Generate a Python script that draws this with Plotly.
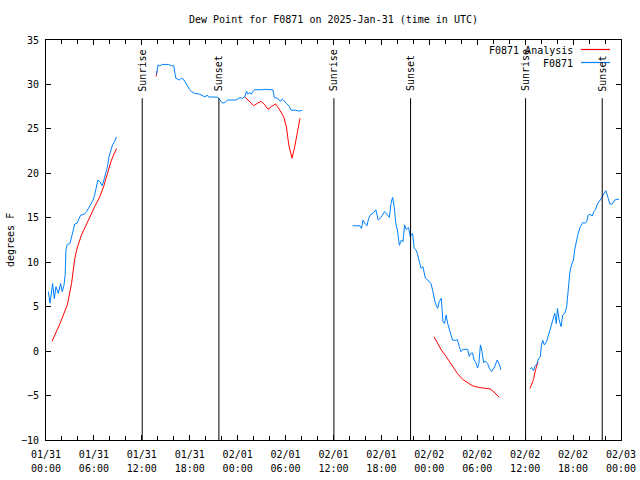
import plotly.graph_objects as go

# hours since 2025-01-31 00:00 UTC ; None = gap
obs_hours = [0.29, 0.5, 0.83, 1.04, 1.25, 1.54, 1.83, 2.04, 2.25, 2.4, 2.5, 2.67, 3.0, 3.2, 3.4, 3.6, 3.9, 4.2, 4.33, 4.8, 5.08, 5.4, 5.7, 5.9, 6.1, 6.3, 6.5, 6.75, 7.04, 7.25, 7.5, 7.7, 7.9, 8.08, 8.33, 8.6, 8.83,
             None,
             13.83, 14.04, 14.25, 14.6, 15.3, 15.7, 16.0, 16.25, 16.7, 16.96, 17.2, 17.5, 17.8, 18.0, 18.2, 18.6, 19.25, 19.6, 19.9, 20.2, 20.4, 20.7, 21.54, 21.8, 22.1, 22.4, 22.7, 23.8, 24.0, 24.3, 24.6, 24.9, 25.1, 25.3, 25.5, 25.7, 25.9, 26.1, 26.96, 27.4, 28.4, 28.6, 29.0, 29.3, 29.6, 29.9, 30.2, 30.5, 30.7, 31.3, 31.7, 32.1,
             None,
             38.4, 39.3, 39.5, 39.7, 39.9, 40.2, 40.4, 40.7, 40.96, 41.3, 41.6, 41.96, 42.4, 42.7, 43.0, 43.2, 43.4, 43.6, 43.8, 44.04, 44.25, 44.5, 44.7, 44.9, 45.1, 45.4, 45.6, 45.9, 46.1, 46.3, 46.5, 46.75, 46.96, 47.2, 47.5, 47.8, 48.2, 48.4, 48.6, 48.75, 49.04, 49.25, 49.5, 49.7, 49.9, 50.1, 50.3, 50.7, 50.9, 51.25, 51.5, 51.75, 51.96, 52.2, 52.8, 53.0, 53.2, 53.4, 53.6, 53.8, 54.04, 54.2, 54.4, 54.6, 54.8, 55.0, 55.3, 55.5, 55.8, 56.1, 56.5, 56.75, 56.96,
             None,
             60.6, 60.8, 61.04, 61.2, 61.5, 61.6, 61.9, 62.04, 62.2, 62.4, 62.7, 62.9, 63.1, 63.3, 63.5, 63.7, 63.9, 64.04, 64.25, 64.5, 64.7, 64.96, 65.2, 65.4, 65.6, 65.8, 66.04, 66.2, 66.4, 66.6, 66.9, 67.2, 67.5, 67.7, 67.9, 68.1, 68.4, 68.6, 68.8, 69.04, 69.4, 69.7, 69.9, 70.1, 70.4, 70.6, 70.9, 71.2, 71.75]
obs_dewpt = [6.7, 5.4, 7.6, 5.9, 7.25, 6.5, 7.6, 6.7, 7.4, 8.6, 11.4, 12.0, 12.1, 12.9, 13.8, 14.3, 14.4, 14.95, 15.3, 15.4, 15.7, 16.2, 16.7, 17.0, 17.6, 18.3, 19.25, 19.06, 18.6, 19.25, 20.0, 20.75, 21.9, 22.6, 23.2, 23.6, 24.1,
             None,
             31.1, 32.2, 32.1, 32.25, 32.25, 32.1, 32.1, 30.7, 30.5, 30.7, 30.6, 30.1, 29.75, 29.4, 29.2, 29.0, 28.9, 28.75, 28.6, 28.8, 28.55, 28.6, 28.55, 28.25, 27.9, 27.95, 28.25, 28.25, 28.35, 28.5, 28.45, 28.6, 29.25, 28.9, 29.1, 28.9, 29.2, 29.4, 29.4, 29.45, 29.4, 28.5, 28.45, 28.1, 28.35, 28.1, 27.8, 27.5, 27.1, 27.1, 27.0, 27.1,
             None,
             14.1, 14.1, 13.8, 14.75, 14.4, 14.1, 14.95, 15.4, 15.5, 15.9, 14.75, 15.05, 15.7, 15.4, 15.05, 16.6, 17.3, 16.25, 14.4, 13.4, 11.9, 12.5, 12.3, 14.2, 13.7, 13.9, 12.9, 13.25, 11.6, 11.4, 11.0, 10.05, 9.3, 9.5, 8.2, 8.0, 7.6, 6.9, 5.75, 5.4, 4.8, 5.6, 5.95, 3.3, 3.1, 4.07, 3.1, 2.0, 1.25, 1.2, 1.3, 0.5, -0.06, 0.2, 0.2, -0.6, -0.25, -0.2, -1.0, -1.2, -1.9, -1.4, 0.7, -0.06, -1.3, -1.1, -1.4, -1.9, -2.3, -1.9, -1.0, -1.45, -2.1,
             None,
             -2.0, -1.85, -2.2, -1.75, -1.4, -1.0, -0.6, 0.7, 1.2, 0.7, 1.1, 1.7, 2.2, 2.9, 3.5, 4.25, 3.1, 4.8, 3.5, 2.75, 4.07, 4.25, 5.0, 7.07, 8.9, 9.7, 10.25, 11.4, 12.3, 13.1, 14.0, 14.45, 14.4, 14.55, 15.3, 15.4, 15.2, 15.7, 15.9, 16.55, 17.0, 17.45, 17.9, 18.05, 17.2, 16.55, 16.55, 17.0, 17.1]

ana_hours = [0.75, 1.75, 2.67, 3.2, 3.6, 3.9, 4.46, 4.9, 5.5, 6.1, 6.75, 7.25, 7.7, 8.2, 8.83,
             None,
             13.8, 13.9,
             None,
             24.9, 25.5, 26.0, 26.5, 26.96, 27.4, 27.8, 28.2, 28.75, 29.0, 29.5, 29.75, 30.1, 30.4, 30.8, 31.1, 31.5, 31.8,
             None,
             48.6, 49.04, 49.5, 50.1, 50.7, 51.1, 51.5, 52.2, 52.8, 53.4, 54.25, 55.1, 55.6, 56.1, 56.75,
             None,
             60.6, 61.04, 61.3, 61.6]
ana_dewpt = [1.1, 3.1, 5.2, 7.6, 10.4, 11.6, 13.1, 14.0, 15.1, 16.25, 17.4, 18.6, 20.0, 21.5, 22.8,
             None,
             30.9, 31.5,
             None,
             28.6, 28.06, 27.6, 27.9, 28.1, 27.7, 27.2, 27.5, 27.8, 27.5, 26.75, 26.4, 25.25, 23.2, 21.7, 22.8, 24.7, 26.2,
             None,
             1.6, 0.9, 0.13, -0.6, -1.4, -1.9, -2.5, -3.2, -3.6, -3.9, -4.1, -4.2, -4.25, -4.6, -5.2,
             None,
             -4.2, -3.2, -2.1, -1.2]

sun_hours = [12.05, 21.65, 36.05, 45.65, 60.05, 69.65]
sun_labels = ["Sunrise", "Sunset", "Sunrise", "Sunset", "Sunrise", "Sunset"]

tick_hours = [0, 6, 12, 18, 24, 30, 36, 42, 48, 54, 60, 66, 72]
tick_dates = ["01/31", "01/31", "01/31", "01/31", "02/01", "02/01", "02/01", "02/01",
              "02/02", "02/02", "02/02", "02/02", "02/03"]
tick_times = ["00:00", "06:00", "12:00", "18:00", "00:00", "06:00", "12:00", "18:00",
              "00:00", "06:00", "12:00", "18:00", "00:00"]

legend_names = ["F0871 Analysis", "F0871"]
RED = "#ff0000"
BLUE = "#0080ff"
FONT = dict(family="DejaVu Sans Mono", size=10, color="black")

fig = go.Figure()
fig.add_trace(go.Scatter(x=ana_hours, y=ana_dewpt, mode="lines", line=dict(color=RED, width=1),
                         name=legend_names[0], showlegend=False))
fig.add_trace(go.Scatter(x=obs_hours, y=obs_dewpt, mode="lines", line=dict(color=BLUE, width=1),
                         name=legend_names[1], showlegend=False))
# carrier for the second (time-of-day) label row
fig.add_trace(go.Scatter(x=[tick_hours[0], tick_hours[-1]], y=[None, None], xaxis="x2",
                         mode="lines", showlegend=False, hoverinfo="skip"))

for h, lab in zip(sun_hours, sun_labels):
    fig.add_shape(type="line", x0=h, x1=h, y0=-10, y1=28.45, xref="x", yref="y",
                  line=dict(color="black", width=1))
    fig.add_annotation(x=h, y=29.1, xref="x", yref="y", text=lab, textangle=-90,
                       showarrow=False, xanchor="center", yanchor="bottom", font=FONT,
                       borderpad=0)

# manual gnuplot-style legend (text left of sample)
L, R, T, B = 46, 621, 40, 440
def px(xp):
    return (xp - L) / (R - L)
def py(yp):
    return (B - yp) / (B - T)

for i, (name, col) in enumerate(zip(legend_names, [RED, BLUE])):
    yy = 50 + i * 13
    fig.add_annotation(x=px(574), y=py(yy), xref="paper", yref="paper", text=name,
                       showarrow=False, xanchor="right", yanchor="middle", font=FONT, borderpad=0)
    fig.add_shape(type="line", x0=px(581), x1=px(610), y0=py(yy - 0.5), y1=py(yy - 0.5),
                  xref="paper", yref="paper", line=dict(color=col, width=1.2))

# y axis title
fig.add_annotation(x=px(10), y=py(240), xref="paper", yref="paper", text="degrees F",
                   textangle=-90, showarrow=False, xanchor="center", yanchor="middle",
                   font=FONT, borderpad=0)

fig.update_layout(
    width=640, height=480,
    margin=dict(l=L, r=640 - R, t=T, b=480 - B, pad=0, autoexpand=False),
    plot_bgcolor="white", paper_bgcolor="white",
    font=FONT,
    title=dict(text="Dew Point for F0871 on 2025-Jan-31 (time in UTC)", x=(L + R) / 2 / 640,
               xanchor="center", y=1 - 19 / 480, yanchor="middle", font=FONT),
    showlegend=False,
    hovermode=False,
    xaxis=dict(range=[0, 72], tickmode="array", tickvals=tick_hours, ticktext=tick_dates,
               ticks="inside", ticklen=5, tickcolor="black", showline=True, linecolor="black",
               linewidth=1, mirror="ticks", showgrid=False, zeroline=False, tickfont=FONT,
               automargin=False, ticklabelstandoff=5, ticklabeloverflow="allow",
               minor=dict(dtick=2, ticks="inside", ticklen=4, tickcolor="black", showgrid=False)),
    xaxis2=dict(overlaying="x", side="bottom", anchor="y", range=[0, 72],
                tickmode="array", tickvals=tick_hours, ticktext=tick_times, ticks="",
                showline=False, showgrid=False, zeroline=False, tickfont=FONT,
                ticklabelstandoff=21, automargin=False, ticklabeloverflow="allow"),
    yaxis=dict(range=[-10, 35], dtick=5, ticks="inside", ticklen=5, tickcolor="black",
               showline=True, linecolor="black", linewidth=1, mirror="ticks", showgrid=False,
               zeroline=False, tickfont=FONT, ticklabelstandoff=4, automargin=False),
)

fig.write_html("out.html", config={"displayModeBar": False, "staticPlot": True},
               post_script="document.body.style.margin='0';")
